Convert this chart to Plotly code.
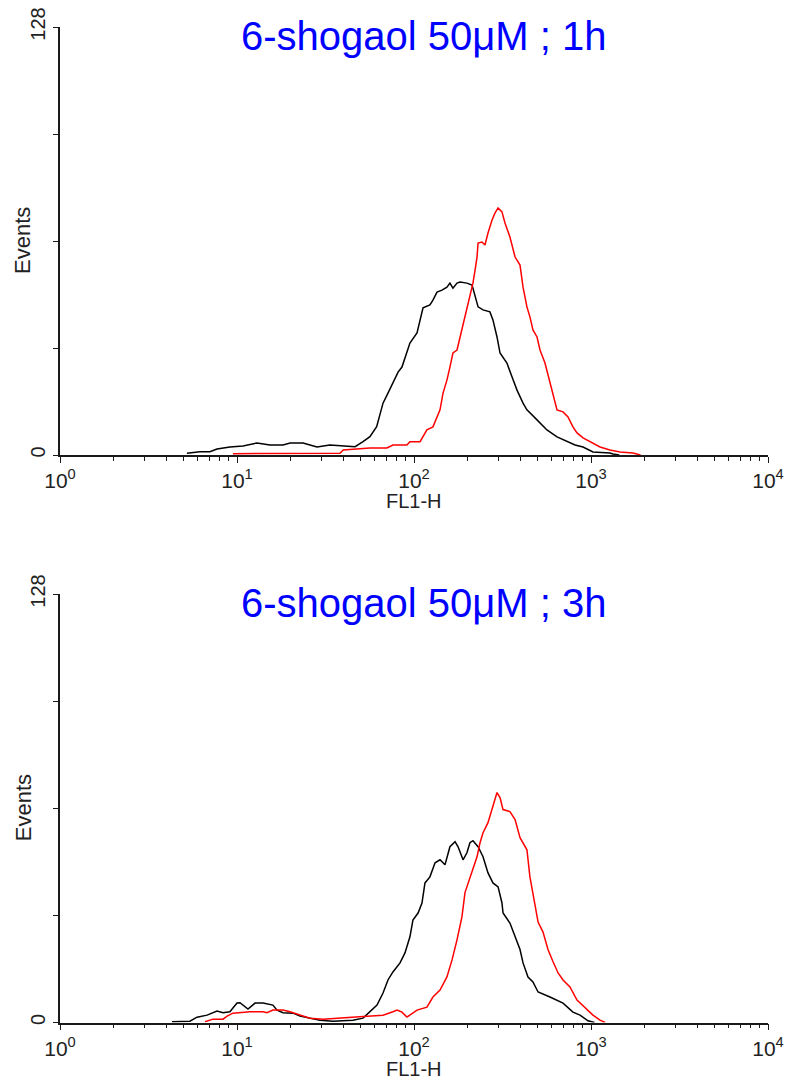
import numpy as np
import plotly.graph_objects as go

# FL1-H channel positions are stored in log10 decades; counts are events per channel.

# --- 6-shogaol 50 uM, 1 h ---
h1_ctrl_log = [0.717, 0.79, 0.847, 0.887, 0.96, 1.034, 1.113, 1.186, 1.26, 1.30, 1.373, 1.452,
               1.525, 1.599, 1.667, 1.712, 1.751, 1.789, 1.825, 1.853, 1.881, 1.910, 1.932,
               1.960, 1.977, 2.017, 2.034, 2.051, 2.090, 2.107, 2.130, 2.158, 2.186, 2.203,
               2.220, 2.243, 2.260, 2.299, 2.328, 2.345, 2.362, 2.390, 2.429, 2.446, 2.469,
               2.486, 2.525, 2.554, 2.582, 2.616, 2.638, 2.695, 2.751, 2.808, 2.864, 2.91,
               2.955, 3.011, 3.107, 3.124, 3.16]
h1_ctrl_cnt = [0.5, 1.0, 1.0, 1.8, 2.4, 2.7, 3.6, 3.0, 3.0, 3.6, 3.6, 2.4,
               3.0, 2.7, 2.5, 4.0, 5.5, 8.5, 15.5, 18.5, 21.5, 24.8, 26.3,
               30.5, 33.5, 36.5, 40.4, 44.0, 44.9, 46.3, 48.7, 49.3, 50.2, 51.4,
               49.9, 51.4, 51.7, 51.4, 50.8, 47.2, 44.3, 43.4, 42.8, 40.4, 35.3,
               30.5, 27.5, 23.3, 19.4, 15.5, 13.5, 10.5, 7.5, 5.4, 4.2, 3.0,
               2.4, 0.9, 0.6, 0.3, 0.0]

h1_trt_log = [0.977, 1.582, 1.6, 1.751, 1.847, 1.881, 1.960, 1.977, 2.034, 2.051, 2.073,
              2.107, 2.130, 2.147, 2.164, 2.186, 2.203, 2.220, 2.243, 2.260, 2.277, 2.299,
              2.316, 2.333, 2.345, 2.356, 2.362, 2.384, 2.401, 2.418, 2.441, 2.458, 2.475,
              2.497, 2.514, 2.542, 2.571, 2.599, 2.616, 2.638, 2.655, 2.672, 2.695, 2.712,
              2.740, 2.768, 2.785, 2.808, 2.842, 2.870, 2.898, 2.921, 2.955, 3.011, 3.051,
              3.107, 3.164, 3.237, 3.260, 3.28]
h1_trt_cnt = [0.4, 0.5, 1.5, 2.1, 2.1, 3.0, 3.0, 4.0, 4.0, 5.5, 7.5,
              8.4, 11.4, 13.5, 18.5, 22.4, 26.3, 30.5, 31.4, 35.3, 38.3, 43.4,
              47.2, 51.4, 55.3, 59.2, 63.4, 63.7, 62.8, 66.4, 70.3, 72.4, 73.9,
              72.7, 69.4, 65.2, 59.2, 56.8, 50.2, 44.3, 41.3, 37.4, 35.3, 31.4,
              27.5, 21.5, 17.5, 13.5, 12.9, 11.4, 8.4, 6.6, 5.1, 3.6, 2.4,
              1.5, 0.9, 0.6, 0.3, 0.0]

# --- 6-shogaol 50 uM, 3 h ---
h3_ctrl_log = [0.633, 0.734, 0.774, 0.831, 0.887, 0.921, 0.960, 1.0, 1.017, 1.062, 1.102,
               1.147, 1.203, 1.226, 1.260, 1.316, 1.356, 1.412, 1.469, 1.542, 1.655, 1.712,
               1.751, 1.791, 1.825, 1.853, 1.881, 1.921, 1.949, 1.977, 1.994, 2.023, 2.045,
               2.062, 2.090, 2.119, 2.147, 2.175, 2.203, 2.232, 2.249, 2.277, 2.299, 2.316,
               2.333, 2.362, 2.390, 2.418, 2.446, 2.475, 2.497, 2.503, 2.542, 2.571, 2.599,
               2.616, 2.644, 2.672, 2.701, 2.768, 2.842, 2.898, 2.938, 2.983, 3.02]
h3_ctrl_cnt = [0.2, 0.4, 1.6, 2.2, 3.4, 2.9, 3.2, 5.8, 5.9, 4.0, 5.8,
               5.8, 5.2, 3.7, 2.9, 2.8, 1.9, 1.3, 0.7, 0.4, 0.7, 1.3,
               3.3, 5.2, 8.8, 12.7, 15.1, 17.8, 20.8, 25.6, 30.6, 32.7, 35.7,
               41.7, 43.5, 47.7, 48.6, 47.1, 52.5, 54.0, 52.5, 48.6, 50.7, 53.7,
               54.3, 52.5, 49.5, 44.7, 41.7, 40.5, 35.7, 32.7, 29.7, 25.6, 21.8,
               17.8, 13.6, 12.1, 9.1, 7.6, 5.8, 3.1, 2.2, 0.5, 0.0]

h3_trt_log = [0.819, 0.864, 0.921, 0.944, 0.977, 1.073, 1.147, 1.169, 1.203, 1.260, 1.299,
              1.356, 1.412, 1.486, 1.582, 1.695, 1.825, 1.881, 1.904, 1.932, 1.960, 2.017,
              2.073, 2.107, 2.147, 2.186, 2.215, 2.243, 2.271, 2.288, 2.316, 2.333, 2.356,
              2.373, 2.390, 2.418, 2.446, 2.469, 2.486, 2.503, 2.542, 2.571, 2.599, 2.638,
              2.655, 2.684, 2.701, 2.729, 2.757, 2.785, 2.814, 2.842, 2.881, 2.921, 2.938,
              2.977, 3.011, 3.051, 3.08]
h3_trt_cnt = [0.2, 1.0, 1.0, 1.9, 2.8, 3.2, 3.2, 2.9, 3.7, 3.7, 3.2,
              2.2, 1.3, 1.0, 1.3, 1.7, 2.2, 3.2, 3.7, 3.1, 1.6, 3.7,
              4.6, 7.6, 9.7, 13.6, 18.7, 24.7, 31.6, 38.8, 43.5, 46.2, 49.5,
              53.7, 56.7, 59.7, 64.5, 68.7, 67.2, 63.6, 63.0, 60.6, 55.2, 51.6,
              43.5, 35.7, 30.0, 27.0, 21.8, 18.2, 14.8, 12.7, 10.6, 6.7, 5.8,
              3.7, 2.2, 0.7, 0.0]

titles = ["6-shogaol 50\u03bcM ; 1h", "6-shogaol 50\u03bcM ; 3h"]
decade_vals = [1, 10, 100, 1000, 10000]
decade_labels = ["10<sup>0</sup>", "10<sup>1</sup>", "10<sup>2</sup>", "10<sup>3</sup>", "10<sup>4</sup>"]
y_label_vals = [0, 128]
y_label_text = ["0", "128"]
y_minor_vals = [32, 64, 96]

W, H = 795, 1083
FONT = "Liberation Sans, Arial, sans-serif"
AXIS_COLOR = "#1a1a1a"
TEXT_COLOR = "#222222"

# pixel layout of the two panels (left, right, top, bottom)
x_left, x_right = 60, 768
panels = [(27, 455), (594, 1022.5)]

fig = go.Figure()

series = [(h1_ctrl_log, h1_ctrl_cnt, h1_trt_log, h1_trt_cnt),
          (h3_ctrl_log, h3_ctrl_cnt, h3_trt_log, h3_trt_cnt)]

x_minor_vals = [m * 10 ** d for d in range(4) for m in range(2, 10)]

for i, (cl, cc, tl, tc) in enumerate(series):
    xa = "x" if i == 0 else "x2"
    ya = "y" if i == 0 else "y2"
    fig.add_trace(go.Scatter(x=np.power(10.0, cl), y=cc, mode="lines",
                             line=dict(color="#000000", width=1.5),
                             xaxis=xa, yaxis=ya, showlegend=False, cliponaxis=False))
    fig.add_trace(go.Scatter(x=np.power(10.0, tl), y=tc, mode="lines",
                             line=dict(color="#ff0000", width=1.5),
                             xaxis=xa, yaxis=ya, showlegend=False, cliponaxis=False))

for i, (top, bot) in enumerate(panels):
    sfx = "" if i == 0 else "2"
    ydom = [1 - bot / H, 1 - top / H]
    fig.layout["xaxis" + sfx] = dict(
        type="log", range=[0, 4], domain=[x_left / W, x_right / W],
        anchor="y" + sfx, automargin=False,
        showline=True, linecolor=AXIS_COLOR, linewidth=1.6,
        showgrid=False, zeroline=False,
        ticks="outside", ticklen=6, tickwidth=1.3, tickcolor=AXIS_COLOR,
        tickvals=decade_vals, ticktext=decade_labels,
        tickfont=dict(family=FONT, size=21, color=TEXT_COLOR),
        minor=dict(tickvals=x_minor_vals, ticks="outside", ticklen=4,
                   tickwidth=1.2, tickcolor=AXIS_COLOR, showgrid=False),
    )
    fig.layout["yaxis" + sfx] = dict(
        range=[0, 128], domain=ydom, anchor="x" + sfx, automargin=False,
        showline=True, linecolor=AXIS_COLOR, linewidth=1.6,
        showgrid=False, zeroline=False,
        ticks="outside", ticklen=5, tickwidth=1.3, tickcolor=AXIS_COLOR,
        tickvals=y_label_vals, ticktext=y_label_text, tickangle=-90,
        tickfont=dict(family=FONT, size=20, color=TEXT_COLOR),
        minor=dict(tickvals=y_minor_vals, ticks="outside", ticklen=5,
                   tickwidth=1.3, tickcolor=AXIS_COLOR, showgrid=False),
    )
    mid_y = (top + bot) / 2
    # panel title
    fig.add_annotation(text=titles[i], xref="paper", yref="paper",
                       x=424 / W, y=1 - (top + 9) / H, xanchor="center", yanchor="middle",
                       showarrow=False, font=dict(family=FONT, size=40, color="#0000ff"))
    # y-axis title
    fig.add_annotation(text="Events", xref="paper", yref="paper",
                       x=23 / W, y=1 - mid_y / H, xanchor="center", yanchor="middle",
                       textangle=-90, showarrow=False,
                       font=dict(family=FONT, size=22, color=TEXT_COLOR))
    # x-axis title
    fig.add_annotation(text="FL1-H", xref="paper", yref="paper",
                       x=414 / W, y=1 - (bot + 46) / H, xanchor="center", yanchor="middle",
                       showarrow=False, font=dict(family=FONT, size=20, color=TEXT_COLOR))

fig.update_layout(width=W, height=H, margin=dict(l=0, r=0, t=0, b=0),
                  paper_bgcolor="white", plot_bgcolor="white")

fig.write_html("out.html")
